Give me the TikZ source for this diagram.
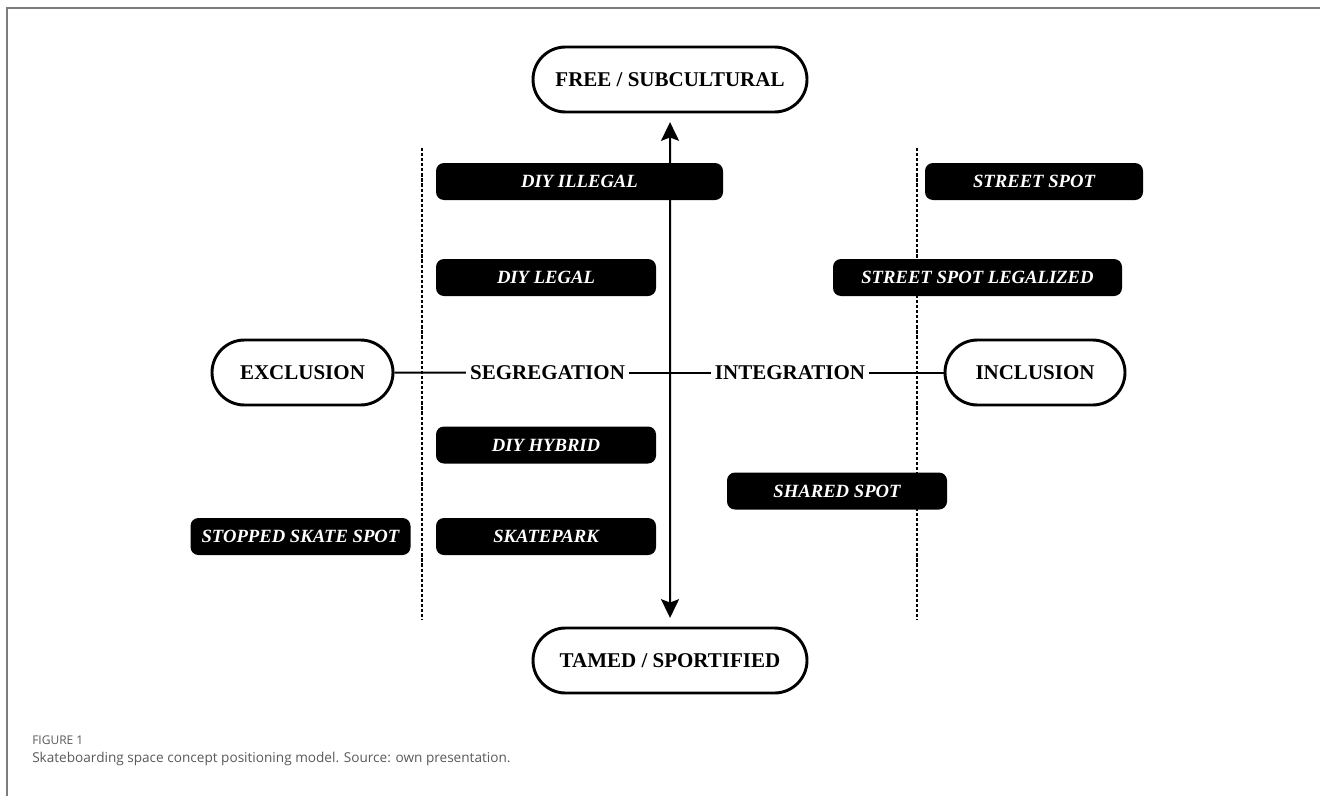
\documentclass[tikz,border=0pt]{standalone}
\usepackage{fontspec}
\setmainfont{Liberation Serif}
\newfontfamily\capfont{Open Sans}
\usepackage{tikz}
\usetikzlibrary{positioning, shapes.misc, arrows.meta}

\definecolor{framegray}{HTML}{7C7C7C}
\definecolor{capgray}{HTML}{595959}

\begin{document}
\begin{tikzpicture}[x=0.75pt, y=-0.75pt,
    pill/.style={draw, line width=2.2pt, rounded rectangle, minimum height=48.75pt, inner sep=0pt, text depth=0pt, font=\fontsize{15.75}{18}\selectfont\bfseries},
    spot/.style={fill=black, text=white, rounded corners=6pt, minimum height=27.75pt, minimum width=165pt, inner sep=0pt, text depth=0pt, font=\fontsize{14}{16}\selectfont\bfseries\itshape},
    axislabel/.style={inner xsep=3pt, inner ysep=0pt, font=\fontsize{15.75}{18}\selectfont\bfseries},
    axis/.style={line width=1.5pt},
    border/.style={dash pattern=on 2.4pt off 1.4pt, line width=1.9pt}]

    \useasboundingbox (0,0) rectangle (1320,796);

    % frame of the figure
    \draw[framegray, line width=1.1pt] (7,796) |- (1320,8);

    \node[pill, minimum width=205.5pt] (free) at (670,79.5) {FREE / SUBCULTURAL};
    \node[pill, minimum width=205.5pt] (tamed) at (670,660.5) {TAMED / SPORTIFIED};
    \node[pill, minimum width=135.75pt] (excl) at (302.5,372.5) {EXCLUSION};
    \node[pill, minimum width=135pt] (incl) at (1035,372.5) {INCLUSION};

    \node[axislabel] (seg) at (547.5,372.5) {SEGREGATION};
    \node[axislabel] (integ) at (790,372.5) {INTEGRATION};

    \coordinate (ltop) at (422,148);
    \coordinate (lbot) at (422,620);
    \coordinate (rtop) at (917,148);
    \coordinate (rbot) at (917,620);

    \draw[border] (ltop) -- (lbot);
    \draw[border] (rtop) -- (rbot);

    \draw[axis] (excl) -- (seg);
    \draw[axis] (seg) -- (integ);
    \draw[axis] (integ) -- (incl);

    \node[spot, minimum width=215.25pt] (illegal) at (579.5,181.5) {DIY ILLEGAL};
    \node[spot] (legal) at (546,277.5) {DIY LEGAL};
    \node[spot] (hybrid) at (546,445) {DIY HYBRID};
    \node[spot] (park) at (546,536.5) {SKATEPARK};
    \node[spot] (stopped) at (300.5,536.5) {STOPPED SKATE SPOT};
    \node[spot, minimum width=163.5pt] (street) at (1034,181.5) {STREET SPOT};
    \node[spot, minimum width=216.75pt] (legalized) at (977.5,277.5) {STREET SPOT LEGALIZED};
    \node[spot] (shared) at (837,491) {SHARED SPOT};

    % vertical axis over the boxes
    \draw[axis, {Stealth[length=14pt, width=13.5pt, inset=2.5pt]}-{Stealth[length=14pt, width=13.5pt, inset=2.5pt]}, shorten <=6.5pt, shorten >=6.5pt] (free) -- (tamed);

    \node[anchor=west, inner sep=0pt, text=capgray, font=\capfont\fontsize{9}{10}\selectfont] (fig) at (32,740) {FIGURE 1};
    \node[anchor=west, inner sep=0pt, text=capgray, font=\capfont\fontsize{10.2}{12}\selectfont] (cap) at (32,759) {Skateboarding space concept positioning model. Source: own presentation.};

\end{tikzpicture}
\end{document}
